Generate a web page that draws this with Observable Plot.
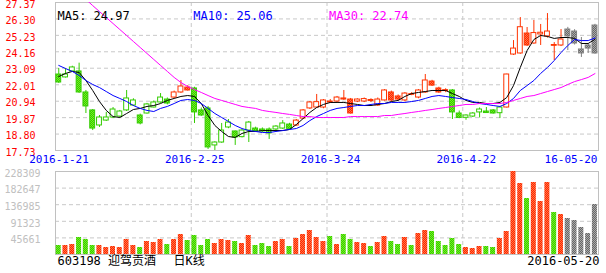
<!DOCTYPE html>
<html><head><meta charset="utf-8">
<script src="https://cdn.jsdelivr.net/npm/d3@7"></script>
<script src="https://cdn.jsdelivr.net/npm/@observablehq/plot@0.6"></script>
<style>
body{margin:0;background:#fff}
#c{position:relative;width:606px;height:273px;overflow:hidden;background:#fff}
#c svg.plot{position:absolute;left:0;top:0;background:transparent}
</style></head><body>
<svg width="0" height="0" style="position:absolute">
<defs>
<pattern id="dr" width="2" height="2" patternUnits="userSpaceOnUse"><rect width="2" height="2" fill="#ff2200"/><rect width="1" height="1" fill="#ff7744"/><rect x="1" y="1" width="1" height="1" fill="#ff7744"/></pattern>
<pattern id="dg" width="2" height="2" patternUnits="userSpaceOnUse"><rect width="2" height="2" fill="#33cc00"/><rect width="1" height="1" fill="#77ee22"/><rect x="1" y="1" width="1" height="1" fill="#77ee22"/></pattern>
<pattern id="dk" width="2" height="2" patternUnits="userSpaceOnUse"><rect width="2" height="2" fill="#666666"/><rect width="1" height="1" fill="#aaaaaa"/><rect x="1" y="1" width="1" height="1" fill="#aaaaaa"/></pattern>
</defs></svg>
<div id="c"></div>
<script>
// ---- data (daily candles, 2016-01-21 .. 2016-05-20) ----
const openP  = [22.68,22.68,23.14,22.88,21.51,20.34,19.88,19.88,20.40,20.27,21.12,20.99,20.01,20.73,20.86,21.18,21.05,21.18,21.51,21.64,
                21.77,20.34,20.47,18.25,19.03,19.55,18.97,19.03,19.55,19.16,19.10,19.10,19.29,19.49,19.42,19.36,19.81,20.47,20.53,20.53,
                20.86,20.92,21.05,20.14,20.92,20.92,20.95,20.66,20.99,20.99,21.05,20.99,21.36,21.18,21.51,21.96,21.51,21.60,21.64,20.14,
                20.01,20.14,20.40,20.27,20.34,20.53,20.53,23.98,24.05,24.57,24.70,25.29,25.16,24.55,24.57,25.61,24.70,24.31,24.57,24.05];
const highP  = [23.07,23.07,23.22,23.42,21.64,20.40,20.01,20.21,20.53,20.34,21.64,21.10,20.10,20.80,20.95,21.44,21.15,21.60,22.29,21.95,
                21.85,20.50,20.60,18.30,19.49,19.75,19.00,19.10,19.62,19.25,19.20,19.20,19.35,19.68,19.50,19.75,20.40,20.92,21.38,21.05,
                21.05,21.25,21.64,21.12,21.10,21.15,21.10,21.15,21.70,21.60,21.35,21.50,21.50,21.70,22.68,22.30,21.85,21.75,21.70,20.30,
                20.05,20.20,20.50,20.53,20.40,20.60,22.70,24.89,26.39,25.74,26.20,25.94,26.65,24.76,25.61,25.75,25.60,25.09,24.70,25.95];
const lowP   = [22.10,22.45,22.85,21.45,20.14,19.03,19.23,19.62,19.81,19.88,20.27,20.60,19.40,20.10,20.50,20.80,20.70,21.10,21.45,21.60,
                19.49,19.95,17.80,17.73,18.20,19.15,18.06,18.55,18.25,18.95,18.90,18.45,18.95,19.10,19.10,19.30,19.75,20.40,20.50,20.45,
                20.80,20.85,20.99,20.10,20.85,20.85,20.85,20.60,20.95,20.90,20.95,20.90,21.30,21.10,21.45,21.90,21.45,21.50,19.75,19.80,
                19.70,19.88,19.85,20.14,20.10,19.81,20.50,23.92,24.00,24.50,24.65,24.57,25.05,23.59,24.50,24.24,24.60,23.79,24.05,24.00];
const closeP = [22.16,22.49,22.88,21.51,20.60,19.16,19.36,19.68,19.88,19.94,20.34,20.66,19.49,20.14,20.53,20.86,20.79,21.51,21.90,21.83,
                20.21,20.01,17.93,18.06,18.25,19.23,18.58,18.60,19.03,19.00,18.97,18.84,19.10,19.16,19.14,19.68,20.34,20.86,20.88,20.99,
                20.92,21.18,21.12,21.05,21.05,21.08,21.02,21.05,21.64,21.51,21.25,21.44,21.40,21.64,22.29,22.22,21.77,21.66,20.21,19.85,
                19.86,19.94,20.21,20.17,20.14,20.16,22.68,24.37,25.76,25.35,25.38,25.40,25.48,24.60,24.96,25.16,25.48,24.05,24.37,25.87];
const prevClose0 = 22.90;
const volume = [24760,24760,27510,46770,41270,24760,24760,19260,22010,19260,41270,24760,19260,35760,33010,41270,27510,41270,55020,38510,
                52270,24760,41270,30260,41270,38510,35760,30260,52270,24760,30260,22010,35760,41270,22010,44020,55020,66020,46770,35760,
                49520,27510,55020,41270,33010,30260,22010,33010,49520,35760,27510,46770,24760,57770,66020,63270,35760,24760,44020,27510,
                19260,16510,22010,22010,19260,44020,63270,228309,195300,154050,198070,145800,198070,115540,110040,99040,93530,74280,57770,137550];
const ma5  = [22.55,22.75,22.88,22.81,22.29,21.64,20.92,20.34,19.94,19.88,20.14,20.40,20.47,20.60,20.66,20.79,20.99,21.12,21.25,21.31,
              21.25,20.79,20.01,19.36,18.97,18.64,18.58,18.84,18.97,18.97,19.03,19.03,19.03,19.03,19.10,19.42,19.81,20.21,20.53,20.73,
              20.86,20.86,20.86,20.79,20.73,20.66,20.66,20.73,20.79,20.92,20.99,21.25,21.44,21.51,21.57,21.64,21.64,21.64,21.44,21.25,
              20.99,20.86,20.86,20.79,20.79,20.86,21.18,21.96,23.14,24.24,24.96,25.22,25.16,25.03,25.09,25.09,25.03,24.70,24.70,24.97];
const ma10 = [23.27,23.07,22.88,22.62,22.29,22.03,21.83,21.57,21.31,21.12,20.92,20.66,20.47,20.34,20.27,20.47,20.60,20.79,20.99,21.05,
              20.99,20.79,20.47,20.14,19.88,19.62,19.36,19.16,19.03,18.97,18.90,18.90,18.97,19.03,19.10,19.16,19.36,19.68,19.94,20.14,
              20.34,20.47,20.53,20.60,20.66,20.66,20.73,20.79,20.79,20.86,20.86,20.86,20.92,20.99,21.12,21.25,21.31,21.25,21.18,21.12,
              21.05,20.92,20.79,20.73,20.66,20.60,20.79,21.12,21.64,21.96,22.29,22.75,23.14,23.59,24.11,24.57,24.96,24.89,24.89,25.06];
const ma30 = [29.13,28.74,28.35,27.96,27.57,27.17,26.78,26.39,26.00,25.61,25.22,24.83,24.44,24.05,23.66,23.27,22.88,22.49,22.16,21.90,
              21.70,21.51,21.31,21.12,20.99,20.86,20.73,20.60,20.53,20.47,20.34,20.27,20.21,20.14,20.08,20.01,19.94,19.94,19.88,19.88,
              19.88,19.88,19.88,19.94,19.94,19.94,19.94,19.94,20.01,20.01,20.08,20.14,20.21,20.27,20.34,20.40,20.47,20.53,20.60,20.66,
              20.73,20.73,20.79,20.79,20.79,20.79,20.86,20.99,21.12,21.25,21.31,21.44,21.57,21.70,21.83,22.03,22.22,22.35,22.49,22.74];
const priceTicks = [27.37,26.30,25.23,24.16,23.09,22.01,20.94,19.87,18.80,17.73];
const volumeTicks = [228309,182647,136985,91323,45661];
const dateTickIndex = [0,20,40,60];
const dateTickLabels = ["2016-1-21","2016-2-25","2016-3-24","2016-4-22"];
const lastDateLabel = "16-05-20";
const stockLabel = "603198 迎驾贡酒";
const periodLabel = "日K线";
const footDate = "2016-05-20";
const grayFrom = 75;
const maNames = ["MA5","MA10","MA30"];

// ---- build ----
const n = closeP.length;
const rows = closeP.map((c, i) => {
  const o = openP[i], prev = i ? closeP[i-1] : prevClose0;
  const gray = i >= grayFrom;
  const col = gray ? "#808080" : (c >= o ? "#ff3300" : "#33cc00");
  const filled = gray || c < prev;
  const pat = gray ? "url(#dk)" : (c >= o ? "url(#dr)" : "url(#dg)");
  const vfill = gray ? "url(#dk)" : (c >= prev ? "url(#dr)" : "url(#dg)");
  return {i, o, h: highP[i], l: lowP[i], c, v: volume[i], col, fill: filled ? pat : "#ffffff", vfill,
          top: Math.max(o, c), bot: Math.min(o, c)};
});
const maLines = [
  {vals: ma5, color: "#000000"},
  {vals: ma10, color: "#0000ff"},
  {vals: ma30, color: "#ff00ff"}
];
const maPts = maLines.flatMap((m, k) => m.vals.map((v, i) => ({i, v, k})));
const legend = maLines.map((m, k) => ({x: k * 20, text: `${maNames[k]}: ${m.vals[n-1].toFixed(2)}`, color: m.color}));

const FONT = "'DejaVu Sans Mono', 'Noto Sans CJK SC', monospace";
const W = 606, H = 273, ML = 55, MR = 8;
const xScale = {type: "linear", domain: [0, n], axis: null};
const grid = {stroke: "#c8c8c8", strokeDasharray: "4,3"};

const price = Plot.plot({
  width: W, height: H, marginLeft: ML, marginRight: MR, marginTop: 2, marginBottom: H - 150,
  x: xScale,
  y: {domain: [17.73, 27.37], axis: null},
  style: {fontFamily: FONT, background: "transparent", overflow: "visible"},
  marks: [
    Plot.ruleY(priceTicks.slice(1, -1), grid),
    Plot.ruleX(dateTickIndex.slice(1), grid),
    Plot.frame({stroke: "#c0c0c0"}),
    Plot.ruleX(rows, {x: d => d.i + 0.48, y1: "l", y2: "h", stroke: "col", clip: true}),
    Plot.rect(rows, {x1: d => d.i + 0.12, x2: d => d.i + 0.84, y1: "bot", y2: d => Math.max(d.top, d.bot + 0.02), fill: "fill", stroke: "col", clip: true}),
    ...maLines.map((m, k) => Plot.line(maPts.filter(p => p.k === k), {x: d => d.i + 0.48, y: "v", stroke: m.color, strokeWidth: 1, clip: true})),
    Plot.text(legend, {x: "x", frameAnchor: "top", text: "text", fill: "color", textAnchor: "start", dx: 2, dy: 9, fontSize: 12}),
    Plot.text(priceTicks, {y: d => d, frameAnchor: "left", text: d => d.toFixed(2), textAnchor: "end", dx: -20, dy: 2, fill: "#ff0000", fontSize: 10}),
    Plot.text(dateTickIndex, {x: d => d, frameAnchor: "bottom", text: (d, j) => dateTickLabels[j], fill: "#0000ff", dx: 3.5, dy: 12.5, fontSize: 11}),
    Plot.text([lastDateLabel], {frameAnchor: "bottom-right", text: d => d, fill: "#0000ff", textAnchor: "end", dx: -1, dy: 12.5, fontSize: 11})
  ]
});

const vol = Plot.plot({
  width: W, height: H, marginLeft: ML, marginRight: MR, marginTop: 171, marginBottom: H - 254,
  x: xScale,
  y: {domain: [0, 228309], axis: null},
  style: {fontFamily: FONT, background: "transparent", overflow: "visible"},
  marks: [
    Plot.ruleY(volumeTicks.slice(1), grid),
    Plot.ruleX(dateTickIndex.slice(1), grid),
    Plot.frame({stroke: "#c0c0c0"}),
    Plot.rect(rows, {x1: d => d.i + 0.1, x2: d => d.i + 0.84, y1: 0, y2: "v", fill: "vfill"}),
    Plot.text(volumeTicks, {y: d => d, frameAnchor: "left", text: d => String(d), textAnchor: "end", dx: -15, dy: 2, fill: "#c0c0c0", fontSize: 10}),
    Plot.text([stockLabel], {frameAnchor: "bottom-left", text: d => d, fill: "#000", textAnchor: "start", dx: 2, dy: 10, fontSize: 12}),
    Plot.text([periodLabel], {frameAnchor: "bottom-left", text: d => d, fill: "#000", textAnchor: "start", dx: 118, dy: 10, fontSize: 12}),
    Plot.text([footDate], {frameAnchor: "bottom-right", text: d => d, fill: "#000", textAnchor: "end", dx: 1, dy: 10, fontSize: 12})
  ]
});
price.classList.add("plot"); vol.classList.add("plot");
const c = document.getElementById("c");
c.appendChild(price); c.appendChild(vol);
</script>
</body></html>
